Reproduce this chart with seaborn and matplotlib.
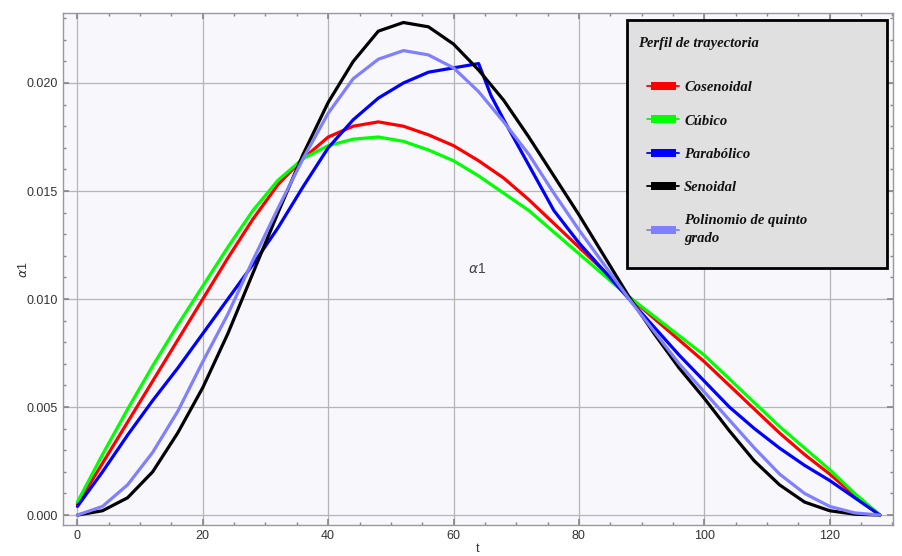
import numpy as np
import pandas as pd
import seaborn as sns
import matplotlib.pyplot as plt
from matplotlib.lines import Line2D
from matplotlib.patches import Rectangle
from matplotlib.path import Path
from matplotlib.ticker import MultipleLocator

# --- DATA ---
t = [0, 4, 8, 12, 16, 20, 24, 28, 32, 36, 40, 44, 48, 52, 56, 60, 64, 66,
     68, 72, 76, 80, 84, 88, 92, 96, 100, 104, 108, 112, 116, 120, 124, 128]
cosenoidal = [.0005, .0024, .0043, .0062, .0081, .0100, .0119, .0137, .0153, .0165,
              .0175, .0180, .0182, .0180, .0176, .0171, .0164, .0160, .0156, .0146,
              .0135, .0124, .0113, .0101, .0091, .0081, .0071, .0060, .0049, .0038,
              .0028, .0019, .0009, .0000]
cubico = [.0006, .0028, .0049, .0069, .0088, .0106, .0124, .0141, .0155, .0165,
          .0171, .0174, .0175, .0173, .0169, .0164, .0157, .0153, .0149, .0141,
          .0131, .0121, .0111, .0101, .0092, .0083, .0074, .0063, .0052, .0041,
          .0031, .0021, .0010, .0000]
parabolico = [.0004, .0020, .0037, .0053, .0068, .0084, .0100, .0116, .0133, .0152,
              .0170, .0183, .0193, .0200, .0205, .0207, .0209, .0194, .0183, .0162,
              .0141, .0126, .0113, .0100, .0087, .0074, .0062, .0050, .0040, .0031,
              .0023, .0016, .0008, .0000]
senoidal = [.0000, .0002, .0008, .0020, .0038, .0059, .0084, .0112, .0140, .0167,
            .0191, .0210, .0224, .0228, .0226, .0218, .0206, .0199, .0192, .0175,
            .0157, .0139, .0120, .0101, .0084, .0068, .0054, .0039, .0025, .0014,
            .0006, .0002, .00004, .0000]
quinto = [.0000, .0004, .0014, .0029, .0048, .0071, .0093, .0118, .0142, .0165,
          .0186, .0202, .0211, .0215, .0213, .0207, .0196, .0189, .0182, .0167,
          .0149, .0132, .0116, .0100, .0085, .0070, .0057, .0044, .0031, .0019,
          .0010, .0004, .0001, .0000]

labels = ['Cosenoidal', 'Cúbico', 'Parabólico', 'Senoidal',
          'Polinomio de quinto\ngrado']
colors = ['#FF0000', '#00FF00', '#0000FF', '#000000', '#8080FF']
series = [cosenoidal, cubico, parabolico, senoidal, quinto]

df = pd.concat([pd.DataFrame({'t': t, 'a1': s, 'perfil': lab})
                for s, lab in zip(series, labels)], ignore_index=True)

# --- PLOT ---
sns.set_theme(style="ticks")
plt.rcParams['font.family'] = ['Liberation Sans', 'DejaVu Sans']

fig = plt.figure(figsize=(9.02, 5.56), dpi=100)
ax = fig.add_axes([63 / 902, 1 - 525 / 556, 830 / 902, 512 / 556])
ax.set_facecolor('#F7F7FC')

sns.lineplot(data=df, x='t', y='a1', hue='perfil', hue_order=labels,
             palette=dict(zip(labels, colors)), estimator=None, sort=False,
             linewidth=2.3, legend=False, ax=ax)

ax.set_xlim(-2.3, 130.1)
ax.set_ylim(-0.00046, 0.02324)
ax.xaxis.set_major_locator(MultipleLocator(20))
ax.xaxis.set_minor_locator(MultipleLocator(5))
ax.yaxis.set_major_locator(MultipleLocator(0.005))
ax.yaxis.set_minor_locator(MultipleLocator(0.001))
ax.yaxis.set_major_formatter(plt.FormatStrFormatter('%.3f'))
ax.grid(True, which='major', color='#B5B5B5', linewidth=0.9)
ax.set_axisbelow(True)
ax.tick_params(which='both', direction='in', top=True, right=True,
               labelsize=9, labelcolor='#333333', color='#888888')
ax.tick_params(which='major', length=4)
ax.tick_params(which='minor', length=2.5)
for sp in ax.spines.values():
    sp.set_color('#999999')
    sp.set_linewidth(1.0)

ax.set_xlabel('t', fontsize=9, color='#333333', labelpad=1)
ax.set_ylabel(r'$\alpha$1', fontsize=9, color='#333333')
ax.yaxis.set_label_coords((30 - 63) / 830, (525 - 270) / 512)
ax.text((477 - 63) / 830, (525 - 269) / 512, r'$\alpha$1', transform=ax.transAxes,
        fontsize=10, color='#444444', ha='center', va='center')

# legend box
box = Rectangle(((627 - 63) / 830, (525 - 268) / 512), 260 / 830, 248 / 512,
                transform=ax.transAxes, facecolor='#E0E0E0', edgecolor='black',
                linewidth=2, zorder=5)
ax.add_patch(box)

serif_bi = {'family': 'Liberation Serif', 'weight': 'bold',
            'style': 'italic', 'size': 10.5}
ax.text((638 - 63) / 830, (525 - 43) / 512, 'Perfil de trayectoria',
        transform=ax.transAxes, fontdict=serif_bi, ha='left', va='center',
        color='#111111', zorder=6)

rect = Path([(-1, -0.34), (1, -0.34), (1, 0.34), (-1, 0.34), (-1, -0.34)],
            [Path.MOVETO, Path.LINETO, Path.LINETO, Path.LINETO, Path.CLOSEPOLY])
handles = [Line2D([], [], color=c, lw=1.3, marker=rect, markersize=18,
                  markeredgewidth=0, markerfacecolor=c) for c in colors]
leg = ax.legend(handles, labels, loc='upper left',
                bbox_to_anchor=((647 - 63) / 830, (525 - 81) / 512),
                frameon=False, handlelength=2.2, handletextpad=0.35,
                labelspacing=1.38, borderaxespad=0, borderpad=0,
                prop=serif_bi)
for txt in leg.get_texts():
    txt.set_linespacing(1.5)
    txt.set_color('#111111')
leg.set_zorder(6)

fig.savefig('out.png', dpi=100)
